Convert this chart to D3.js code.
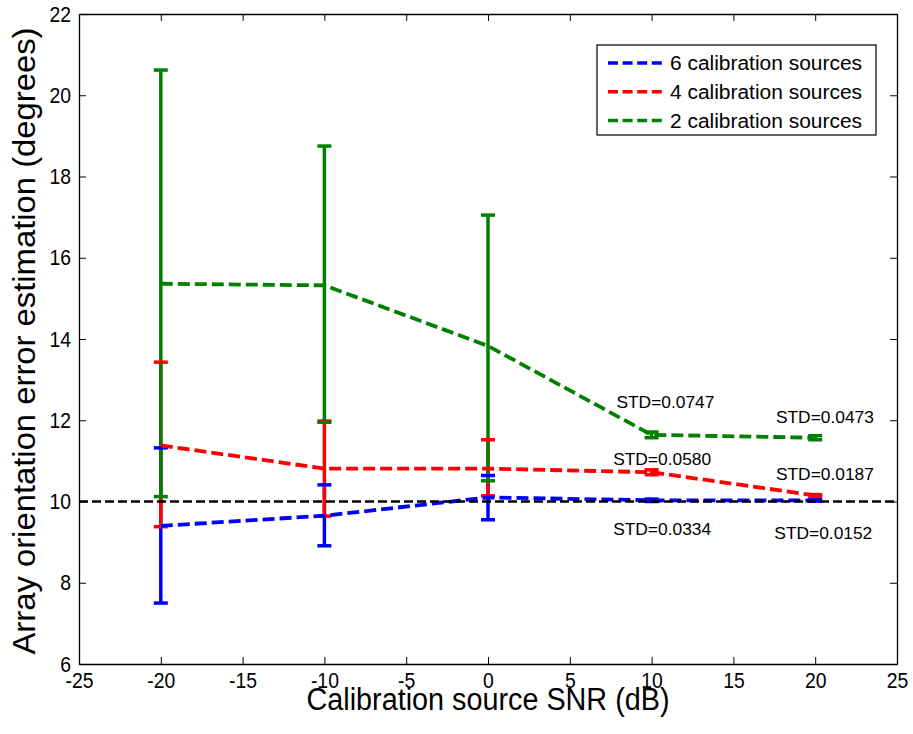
<!DOCTYPE html>
<html>
<head>
<meta charset="utf-8">
<script src="https://cdn.jsdelivr.net/npm/d3@7"></script>
<style>
body { margin: 0; background: #fff; }
text { font-family: Arial, "Liberation Sans", sans-serif; fill: #000; }
</style>
</head>
<body>
<div id="chart"></div>
<script>
// data
var snr = [-20, -10, 0, 10, 20];

var mean6 = [9.40, 9.65, 10.10, 10.03, 10.03];
var low6  = [7.50, 8.91, 9.55, 10.00, 10.01];
var high6 = [11.32, 10.41, 10.64, 10.06, 10.05];

var mean4 = [11.38, 10.81, 10.81, 10.72, 10.15];
var low4  = [9.38, 9.64, 10.14, 10.66, 10.13];
var high4 = [13.43, 11.98, 11.52, 10.78, 10.17];

var mean2 = [15.36, 15.32, 13.83, 11.64, 11.57];
var low2  = [10.12, 11.95, 10.51, 11.57, 11.52];
var high2 = [20.62, 18.75, 17.05, 11.71, 11.62];

var seriesNames = ["6 calibration sources", "4 calibration sources", "2 calibration sources"];
var seriesColors = ["#0000ff", "#ff0000", "#008000"];

var xTicks = [-25, -20, -15, -10, -5, 0, 5, 10, 15, 20, 25];
var yTicks = [6, 8, 10, 12, 14, 16, 18, 20, 22];
var trueAngle = 10;

// STD annotations (text, x, y in data units)
var stdText = ["STD=0.0747", "STD=0.0473", "STD=0.0580", "STD=0.0187", "STD=0.0334", "STD=0.0152"];
var stdAtX  = [7.85, 17.6, 7.65, 17.6, 7.65, 17.5];
var stdAtY  = [12.45, 12.07, 11.05, 10.67, 9.33, 9.22];

var width = 913, height = 734;
var plotLeft = 79, plotRight = 897, plotTop = 14, plotBottom = 664;

var svg = d3.select("#chart").append("svg").attr("width", width).attr("height", height);

var x = d3.scaleLinear().domain([-25, 25]).range([plotLeft, plotRight]);
var y = d3.scaleLinear().domain([6, 22]).range([plotBottom, plotTop]);

var series = [
  {mean: mean6, low: low6, high: high6},
  {mean: mean4, low: low4, high: high4},
  {mean: mean2, low: low2, high: high2}
];
series.forEach(function(s, i) { s.name = seriesNames[i]; s.color = seriesColors[i]; });

function pts(s) {
  return snr.map(function(v, j) { return {x: v, m: s.mean[j], lo: s.low[j], hi: s.high[j]}; });
}

function plain(d) { return String(d); }

// axes (ticks pointing inward, box on)
var xAxis = d3.axisBottom(x).tickValues(xTicks).tickFormat(plain).tickSizeInner(-7).tickSizeOuter(0).tickPadding(8);
var yAxis = d3.axisLeft(y).tickValues(yTicks).tickFormat(plain).tickSizeInner(-7).tickSizeOuter(0).tickPadding(9);

svg.append("g").attr("class", "x_axis").attr("transform", "translate(0," + plotBottom + ")").call(xAxis);
svg.append("g").attr("class", "y_axis").attr("transform", "translate(" + plotLeft + ",0)").call(yAxis);
svg.append("g").attr("transform", "translate(0," + plotTop + ")")
  .call(d3.axisTop(x).tickValues(xTicks).tickSizeInner(-7).tickSizeOuter(0).tickFormat(""));
svg.append("g").attr("transform", "translate(" + plotRight + ",0)")
  .call(d3.axisRight(y).tickValues(yTicks).tickSizeInner(-7).tickSizeOuter(0).tickFormat(""));

svg.selectAll(".domain").attr("stroke", "#000").attr("stroke-width", 1.3);
svg.selectAll(".tick line").attr("stroke", "#000").attr("stroke-width", 1);
svg.selectAll(".x_axis .tick text, .y_axis .tick text")
  .style("font-size", "22px").style("font-family", "Arial, 'Liberation Sans', sans-serif")
  .attr("transform", "scale(0.88,1)");

// axis titles
svg.append("text")
  .attr("x", (plotLeft + plotRight) / 2).attr("y", 710)
  .attr("text-anchor", "middle").style("font-size", "31px")
  .attr("textLength", 363).attr("lengthAdjust", "spacingAndGlyphs")
  .text("Calibration source SNR (dB)");

svg.append("text")
  .attr("transform", "translate(35,341)rotate(-90)")
  .attr("text-anchor", "middle").style("font-size", "31px")
  .attr("textLength", 627).attr("lengthAdjust", "spacingAndGlyphs")
  .text("Array orientation error estimation (degrees)");

// error bar stems
series.forEach(function(s) {
  svg.append("g").selectAll("line").data(pts(s)).enter().append("line")
    .attr("x1", function(d) { return x(d.x); }).attr("x2", function(d) { return x(d.x); })
    .attr("y1", function(d) { return y(d.lo); }).attr("y2", function(d) { return y(d.hi); })
    .attr("stroke", s.color).attr("stroke-width", 3.5);
});

// caps
series.forEach(function(s) {
  var g = svg.append("g");
  ["lo", "hi"].forEach(function(k) {
    g.selectAll("line." + k).data(pts(s)).enter().append("line").attr("class", k)
      .attr("x1", function(d) { return x(d.x) - 7; }).attr("x2", function(d) { return x(d.x) + 7; })
      .attr("y1", function(d) { return y(d[k]); }).attr("y2", function(d) { return y(d[k]); })
      .attr("stroke", s.color).attr("stroke-width", 3.5);
  });
});

// dashed mean lines
var line = d3.line().x(function(d) { return x(d.x); }).y(function(d) { return y(d.m); });
series.forEach(function(s) {
  svg.append("path").datum(pts(s)).attr("d", line)
    .attr("fill", "none").attr("stroke", s.color).attr("stroke-width", 3.8)
    .attr("stroke-dasharray", "12,5");
});

// true value reference
svg.append("line")
  .attr("x1", x(-25)).attr("x2", x(25))
  .attr("y1", y(trueAngle)).attr("y2", y(trueAngle))
  .attr("stroke", "#000").attr("stroke-width", 2.6).attr("stroke-dasharray", "9,4");

// STD labels
svg.append("g").selectAll("text").data(stdText).enter().append("text")
  .attr("x", function(d, i) { return x(stdAtX[i]); })
  .attr("y", function(d, i) { return y(stdAtY[i]); })
  .attr("dy", "0.35em").style("font-size", "17px")
  .attr("textLength", 98).attr("lengthAdjust", "spacingAndGlyphs")
  .text(function(d) { return d; });

// legend
var legend = svg.append("g").attr("transform", "translate(597,45)");
legend.append("rect").attr("width", 279).attr("height", 90)
  .attr("fill", "#fff").attr("stroke", "#000").attr("stroke-width", 1.2);
var item = legend.selectAll("g.item").data(series).enter().append("g").attr("class", "item")
  .attr("transform", function(d, i) { return "translate(0," + (18 + i * 28.7) + ")"; });
item.append("line").attr("x1", 11).attr("x2", 65).attr("y1", 0).attr("y2", 0)
  .attr("stroke", function(d) { return d.color; }).attr("stroke-width", 3.5)
  .attr("stroke-dasharray", "10,4.6");
item.append("text").attr("x", 73).attr("dy", "0.36em").style("font-size", "20px")
  .attr("textLength", 192).attr("lengthAdjust", "spacingAndGlyphs")
  .text(function(d) { return d.name; });
</script>
</body>
</html>
